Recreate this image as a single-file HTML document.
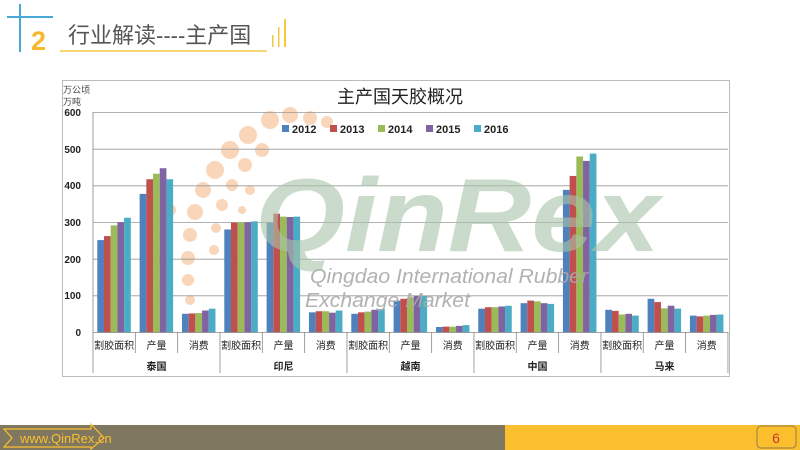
<!DOCTYPE html>
<html><head><meta charset="utf-8"><style>
html,body{margin:0;padding:0;background:#fff;}
svg{display:block;font-family:"Liberation Sans","Noto Sans CJK SC",sans-serif;}
</style></head><body>
<svg width="800" height="450" viewBox="0 0 800 450" xmlns="http://www.w3.org/2000/svg">
<!-- header -->
<line x1="20" y1="4" x2="20" y2="52" stroke="#4aa8d8" stroke-width="2"/>
<line x1="7" y1="17" x2="53" y2="17" stroke="#4aa8d8" stroke-width="2"/>
<text x="31" y="50" font-size="27" font-weight="bold" fill="#f5b82e">2</text>
<text x="68" y="43" font-size="22" fill="#555">行业解读----主产国</text>
<line x1="60" y1="51" x2="267" y2="51" stroke="#f5c842" stroke-width="1.5"/>
<rect x="272" y="35" width="1.5" height="12" fill="#f5c842"/>
<rect x="278" y="27" width="1.5" height="20" fill="#f5c842"/>
<rect x="284" y="19" width="2" height="28" fill="#f5c842"/>

<!-- chart frame -->
<rect x="62.5" y="80.5" width="667" height="296" fill="#fff" stroke="#bbb" stroke-width="1"/>
<text x="63" y="93" font-size="9" fill="#444">万公顷</text>
<text x="63" y="105" font-size="9" fill="#444">万吨</text>
<text x="400" y="103" font-size="18" fill="#222" text-anchor="middle">主产国天胶概况</text>

<!-- watermark dots -->
<g fill="#f7c9a4" opacity="0.75">
<circle cx="270" cy="120" r="9"/><circle cx="248" cy="135" r="9"/><circle cx="230" cy="150" r="9"/><circle cx="215" cy="170" r="9"/><circle cx="203" cy="190" r="8"/><circle cx="195" cy="212" r="8"/><circle cx="190" cy="235" r="7"/><circle cx="188" cy="258" r="7"/><circle cx="188" cy="280" r="6"/><circle cx="190" cy="300" r="5"/>
<circle cx="290" cy="115" r="8"/><circle cx="310" cy="118" r="7"/><circle cx="327" cy="122" r="6"/>
<circle cx="262" cy="150" r="7"/><circle cx="245" cy="165" r="7"/><circle cx="232" cy="185" r="6"/><circle cx="222" cy="205" r="6"/><circle cx="216" cy="228" r="5"/><circle cx="214" cy="250" r="5"/>
<circle cx="170" cy="210" r="6"/><circle cx="165" cy="235" r="6"/><circle cx="162" cy="260" r="6"/><circle cx="163" cy="285" r="5"/><circle cx="168" cy="310" r="5"/>
<circle cx="250" cy="190" r="5"/><circle cx="242" cy="210" r="4"/><circle cx="237" cy="232" r="4"/>
</g>

<!-- gridlines -->
<g stroke="#999" stroke-width="0.8">
<line x1="93" y1="112.5" x2="728" y2="112.5"/>
<line x1="93" y1="149.2" x2="728" y2="149.2"/>
<line x1="93" y1="185.8" x2="728" y2="185.8"/>
<line x1="93" y1="222.5" x2="728" y2="222.5"/>
<line x1="93" y1="259.2" x2="728" y2="259.2"/>
<line x1="93" y1="295.8" x2="728" y2="295.8"/>
</g>
<g font-size="10" font-weight="bold" fill="#222" text-anchor="end">
<text x="81" y="116">600</text><text x="81" y="153">500</text><text x="81" y="189">400</text><text x="81" y="226">300</text><text x="81" y="263">200</text><text x="81" y="299">100</text><text x="81" y="336">0</text>
</g>

<!-- legend -->
<g font-size="11" font-weight="bold" fill="#222">
<rect x="282" y="125" width="7" height="7" fill="#4f81bd"/><text x="292" y="133">2012</text>
<rect x="330" y="125" width="7" height="7" fill="#c0504d"/><text x="340" y="133">2013</text>
<rect x="378" y="125" width="7" height="7" fill="#9bbb59"/><text x="388" y="133">2014</text>
<rect x="426" y="125" width="7" height="7" fill="#8064a2"/><text x="436" y="133">2015</text>
<rect x="474" y="125" width="7" height="7" fill="#4bacc6"/><text x="484" y="133">2016</text>
</g>

<g id="bars"></g>

<text x="255" y="251" font-size="104" font-style="italic" font-weight="bold" fill="#a9c4a9" opacity="0.6" textLength="405" lengthAdjust="spacingAndGlyphs">QinRex</text>
<text x="310" y="283" font-size="20" font-style="italic" fill="#aaa" opacity="0.9" textLength="278" lengthAdjust="spacingAndGlyphs">Qingdao International Rubber</text>
<text x="305" y="307" font-size="20" font-style="italic" fill="#aaa" opacity="0.9" textLength="165" lengthAdjust="spacingAndGlyphs">Exchange Market</text>

<!-- axes -->
<line x1="93" y1="112" x2="93" y2="373" stroke="#888" stroke-width="0.8"/>
<line x1="93" y1="332.5" x2="728" y2="332.5" stroke="#888" stroke-width="0.8"/>
<g id="divs" stroke="#888" stroke-width="0.8"></g>
<g id="labs" font-size="10" fill="#222" text-anchor="middle"></g>

<!-- footer -->
<rect x="0" y="425" width="505" height="25" fill="#7f7760"/>
<rect x="505" y="425" width="295" height="25" fill="#fbbf2e"/>
<polygon points="4,429 91,429 91,424 104,438 91,449 91,447 4,447 12,438" fill="none" stroke="#fbbf2e" stroke-width="1.2"/>
<text x="20" y="443" font-size="13" fill="#fbbf2e">www.QinRex.cn</text>
<rect x="757" y="426" width="39" height="22" rx="4" fill="#fbbf2e" stroke="#a8884a" stroke-width="1.2"/>
<text x="776" y="443" font-size="14" fill="#c0392b" text-anchor="middle">6</text>
</svg>
<script>
var data=[[252,263,292,301,313],[378,418,433,448,418],[51,52,53,60,65],
[281,300,300,301,303],[300,324,316,315,316],[55,58,58,54,60],
[51,55,57,62,64],[87,92,96,100,100],[15,16,16,18,20],
[65,69,69,71,73],[80,87,85,80,78],[389,427,480,468,488],
[62,59,49,51,46],[92,83,66,73,65],[46,44,46,48,49]];
var cols=["#4f81bd","#c0504d","#9bbb59","#8064a2","#4bacc6"];
var ns="http://www.w3.org/2000/svg";
var x0=93,cw=42.33,y0=332.5,k=220/600;
var g=document.getElementById("bars"),dv=document.getElementById("divs"),lb=document.getElementById("labs");
function el(t,a,p){var e=document.createElementNS(ns,t);for(var i in a)e.setAttribute(i,a[i]);p.appendChild(e);return e;}
var cats=["割胶面积","产量","消费"],grp=["泰国","印尼","越南","中国","马来"];
for(var c=0;c<15;c++){var bx=x0+c*cw+4.3;
 for(var s=0;s<5;s++){var h=data[c][s]*k;el("rect",{x:bx+s*6.7,y:y0-h,width:6.7,height:h,fill:cols[s]},g);}
 var t=el("text",{x:x0+c*cw+cw/2,y:349},lb);t.textContent=cats[c%3];
 var dx=x0+(c+1)*cw;el("line",{x1:dx,y1:332,x2:dx,y2:(c%3==2)?373:353},dv);}
for(var i=0;i<5;i++){var t=el("text",{x:x0+(i*3+1.5)*cw,y:370,"font-weight":"bold"},lb);t.textContent=grp[i];}
</script>
</body></html>
